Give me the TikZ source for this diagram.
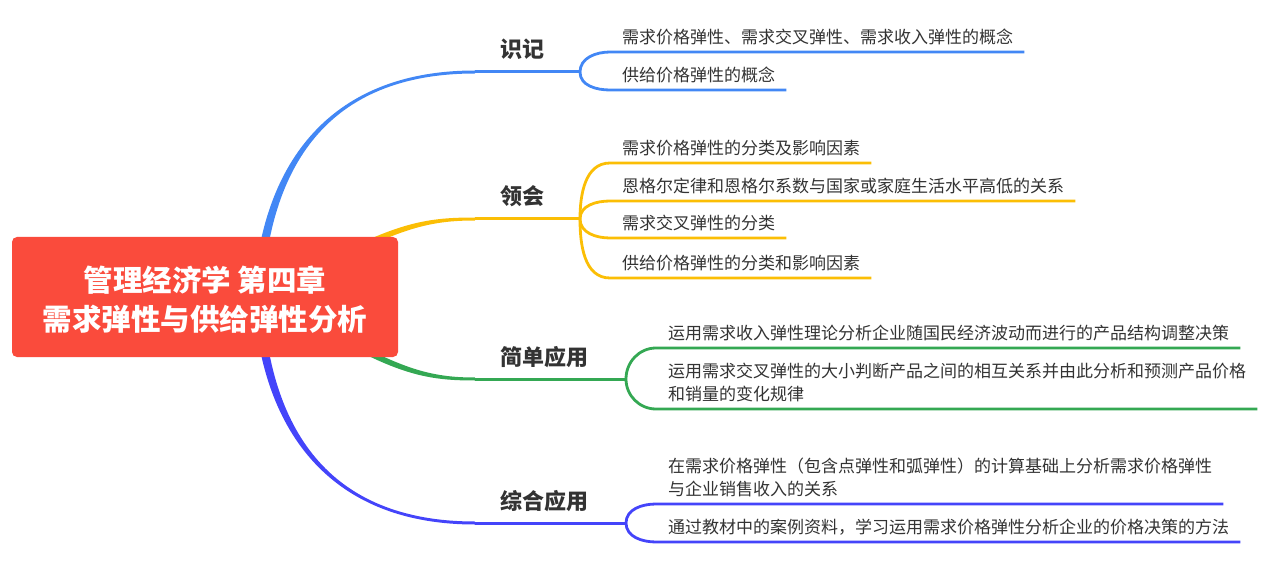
\documentclass[tikz,border=0pt]{standalone}
\usepackage{fontspec}
\setmainfont{Noto Sans CJK SC}
\usetikzlibrary{backgrounds}
\definecolor{rootred}{RGB}{250, 75, 60}
\definecolor{cblue}{RGB}{66, 135, 245}
\definecolor{cyellow}{RGB}{251, 190, 5}
\definecolor{cgreen}{RGB}{52, 168, 83}
\definecolor{cpurple}{RGB}{68, 68, 250}
\definecolor{ink}{RGB}{51, 51, 51}

\begin{document}
\begin{tikzpicture}[x=1pt, y=-1pt,
          root/.style={rectangle, rounded corners=5pt, fill=rootred,
                       minimum width=386pt, minimum height=120pt,
                       inner sep=0pt, text=white, align=center,
                       text height=69pt, text depth=2pt,
                       font=\fontsize{29.5}{39}\selectfont\bfseries},
          topic/.style={anchor=base west, inner sep=0pt, text=ink,
                        font=\fontsize{22}{26}\selectfont\bfseries},
          leaf/.style={anchor=south west, inner sep=0pt,
                       text depth=0pt, align=left, text=ink,
                       font=\fontsize{17}{23}\selectfont},
          stem/.style={line width=3pt},
          twig/.style={line width=2.8pt},
      ]
      \useasboundingbox (0, 0) rectangle (1264, 564);
      \node[root] (root) at (205, 297)
          {管理经济学 第四章\\需求弹性与供给弹性分析};

      \node[topic] (b1) at (500, 58) {识记};
      \node[topic] (b2) at (500, 205) {领会};
      \node[topic] (b3) at (500, 365) {简单应用};
      \node[topic] (b4) at (500, 509) {综合应用};

      \coordinate (s1) at (258, 297);
      \coordinate (s2) at (330, 262);
      \coordinate (s3) at (330, 332);
      \coordinate (s4) at (258, 297);
      \coordinate (e1) at (475, 72);
      \coordinate (e2) at (475, 219);
      \coordinate (e3) at (475, 379);
      \coordinate (e4) at (475, 523);
      \coordinate (o1) at (580, 72);
      \coordinate (o2) at (580, 219);
      \coordinate (o3) at (626, 379);
      \coordinate (o4) at (626, 523);

      \begin{scope}[on background layer]
      \fill[cblue] ([xshift=-4.5pt]s1)
          .. controls +(7, -129) and +(-149, 0) .. ([yshift=1.5pt]e1)
          -- ([yshift=-1.5pt]e1)
          .. controls +(-149, 0) and +(7, -129) .. ([xshift=4.5pt]s1)
          -- cycle;
      \fill[cyellow] ([yshift=3.5pt]s2)
          .. controls +(70, -37) and +(-45, 0) .. ([yshift=1.5pt]e2)
          -- ([yshift=-1.5pt]e2)
          .. controls +(-45, 0) and +(70, -37) .. ([yshift=-3.5pt]s2)
          -- cycle;
      \fill[cgreen] ([yshift=3.5pt]s3)
          .. controls +(70, 40) and +(-45, 0) .. ([yshift=1.5pt]e3)
          -- ([yshift=-1.5pt]e3)
          .. controls +(-45, 0) and +(70, 40) .. ([yshift=-3.5pt]s3)
          -- cycle;
      \fill[cpurple] ([xshift=-4.5pt]s4)
          .. controls +(7, 129) and +(-149, 0) .. ([yshift=-1.5pt]e4)
          -- ([yshift=1.5pt]e4)
          .. controls +(-149, 0) and +(7, 129) .. ([xshift=4.5pt]s4)
          -- cycle;
      \end{scope}
      \draw[stem, cblue] (e1) -- (o1);
      \draw[stem, cyellow] (e2) -- (o2);
      \draw[stem, cgreen] (e3) -- (o3);
      \draw[stem, cpurple] (e4) -- (o4);

      \node[leaf] (l11) at (622, 44)
          {需求价格弹性、需求交叉弹性、需求收入弹性的概念};
      \node[leaf] (l12) at (622, 82) {供给价格弹性的概念};
      \node[leaf] (l21) at (622, 155) {需求价格弹性的分类及影响因素};
      \node[leaf] (l22) at (622, 193)
          {恩格尔定律和恩格尔系数与国家或家庭生活水平高低的关系};
      \node[leaf] (l23) at (622, 230) {需求交叉弹性的分类};
      \node[leaf] (l24) at (622, 270) {供给价格弹性的分类和影响因素};
      \node[leaf] (l31) at (668, 340)
          {运用需求收入弹性理论分析企业随国民经济波动而进行的产品结构调整决策};
      \node[leaf] (l32) at (668, 401)
          {运用需求交叉弹性的大小判断产品之间的相互关系并由此分析和预测产品价格\\和销量的变化规律};
      \node[leaf] (l41) at (668, 496)
          {在需求价格弹性（包含点弹性和弧弹性）的计算基础上分析需求价格弹性\\与企业销售收入的关系};
      \node[leaf] (l42) at (668, 534)
          {通过教材中的案例资料，学习运用需求价格弹性分析企业的价格决策的方法};

      \draw[twig, cblue] (o1) to[out=90, in=180]
          ([xshift=-12pt, yshift=-8pt]l11.south west)
          -- ([xshift=11pt, yshift=-8pt]l11.south east);
      \draw[twig, cblue] (o1) to[out=270, in=180]
          ([xshift=-12pt, yshift=-8pt]l12.south west)
          -- ([xshift=11pt, yshift=-8pt]l12.south east);
      \draw[twig, cyellow] (o2) to[out=90, in=180]
          ([xshift=-12pt, yshift=-8pt]l21.south west)
          -- ([xshift=11pt, yshift=-8pt]l21.south east);
      \draw[twig, cyellow] (o2) to[out=90, in=180]
          ([xshift=-12pt, yshift=-8pt]l22.south west)
          -- ([xshift=11pt, yshift=-8pt]l22.south east);
      \draw[twig, cyellow] (o2) to[out=270, in=180]
          ([xshift=-12pt, yshift=-8pt]l23.south west)
          -- ([xshift=11pt, yshift=-8pt]l23.south east);
      \draw[twig, cyellow] (o2) to[out=270, in=180]
          ([xshift=-12pt, yshift=-8pt]l24.south west)
          -- ([xshift=11pt, yshift=-8pt]l24.south east);
      \draw[twig, cgreen] (o3) to[out=90, in=180]
          ([xshift=-12pt, yshift=-8pt]l31.south west)
          -- ([xshift=11pt, yshift=-8pt]l31.south east);
      \draw[twig, cgreen] (o3) to[out=270, in=180]
          ([xshift=-12pt, yshift=-8pt]l32.south west)
          -- ([xshift=11pt, yshift=-8pt]l32.south east);
      \draw[twig, cpurple] (o4) to[out=90, in=180]
          ([xshift=-12pt, yshift=-8pt]l41.south west)
          -- ([xshift=11pt, yshift=-8pt]l41.south east);
      \draw[twig, cpurple] (o4) to[out=270, in=180]
          ([xshift=-12pt, yshift=-8pt]l42.south west)
          -- ([xshift=11pt, yshift=-8pt]l42.south east);
      \end{tikzpicture}
\end{document}
